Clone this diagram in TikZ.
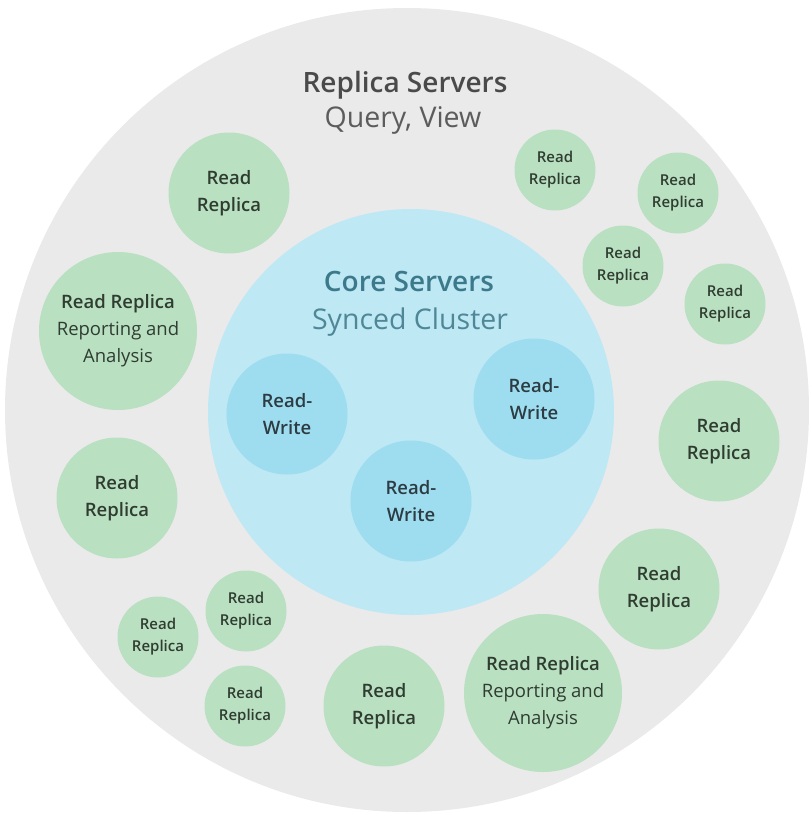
\documentclass[tikz,border=0pt]{standalone}
\usepackage{fontspec}
\IfFontExistsTF{Open Sans SemiBold}
  {\setmainfont{Open Sans}[BoldFont={Open Sans SemiBold}]}
  {\IfFontExistsTF{Open Sans Semibold}
    {\setmainfont{Open Sans}[BoldFont={Open Sans Semibold}]}
    {\setmainfont{Open Sans}}}
\definecolor{outerfill}{HTML}{EAEAEA}
\definecolor{corefill}{HTML}{BEE8F4}
\definecolor{rwfill}{HTML}{9EDCEF}
\definecolor{greenfill}{HTML}{BAE0C2}
\definecolor{outertext}{HTML}{4A4A4A}
\definecolor{coretext}{HTML}{3C7A8B}
\definecolor{rwtext}{HTML}{2C3C42}
\definecolor{greentext}{HTML}{2F3D31}
\tikzset{
  outerc/.style={circle, fill=outerfill, inner sep=0pt, minimum size=804pt},
  corec/.style={circle, fill=corefill, inner sep=0pt, minimum size=406pt},
  rwc/.style={circle, fill=rwfill, inner sep=0pt, minimum size=121pt, align=center,
    text=rwtext, font=\fontsize{18.5}{27}\selectfont\bfseries},
  grn/.style={circle, fill=greenfill, inner sep=0pt, align=center, text=greentext},
  bigr/.style={grn, minimum size=121pt, font=\fontsize{18.5}{27.5}\selectfont\bfseries},
  smallr/.style={grn, minimum size=81pt, font=\fontsize{15}{22}\selectfont\bfseries},
  repr/.style={grn, minimum size=158pt, font=\fontsize{18.5}{27}\selectfont},
  titlea/.style={anchor=base, font=\fontsize{28}{32}\selectfont\bfseries},
  titleb/.style={anchor=base, font=\fontsize{28.5}{32}\selectfont},
}
\begin{document}
\begin{tikzpicture}[x=1pt,y=-1pt]
\useasboundingbox (0,0) rectangle (809,815);
\fill[white] (0,0) rectangle (809,815);
\node[outerc] (outer) at (407,410) {};
\node[titlea, text=outertext] (rst) at (405,92) {Replica Servers};
\node[titleb, text=outertext!90] (rsq) at (403,127) {Query, View};
\node[corec] (core) at (411,412) {};
\node[titlea, text=coretext] (cst) at (409,291) {Core Servers};
\node[titleb, text=coretext!90] (csq) at (410,329) {Synced Cluster};
\node[rwc] (rw1) at (287,414) {Read-\\Write};
\node[rwc] (rw2) at (534,399) {Read-\\Write};
\node[rwc] (rw3) at (411,501) {Read-\\Write};
% green replicas
\node[bigr] (g1) at (229,193) {Read\\Replica};
\node[repr] (g2) at (118,331) {\textbf{Read Replica}\\Reporting and\\Analysis};
\node[bigr] (g3) at (117,498) {Read\\Replica};
\node[smallr] (g4) at (158,637) {Read\\Replica};
\node[smallr] (g5) at (246,611) {Read\\Replica};
\node[smallr] (g6) at (245,706) {Read\\Replica};
\node[bigr] (g7) at (384,706) {Read\\Replica};
\node[repr] (g8) at (543,693) {\textbf{Read Replica}\\Reporting and\\Analysis};
\node[bigr] (g9) at (659,589) {Read\\Replica};
\node[bigr] (g10) at (719,441) {Read\\Replica};
\node[smallr] (g11) at (555,170) {Read\\Replica};
\node[smallr] (g12) at (678,193) {Read\\Replica};
\node[smallr] (g13) at (623,266) {Read\\Replica};
\node[smallr] (g14) at (725,304) {Read\\Replica};
\end{tikzpicture}
\end{document}
